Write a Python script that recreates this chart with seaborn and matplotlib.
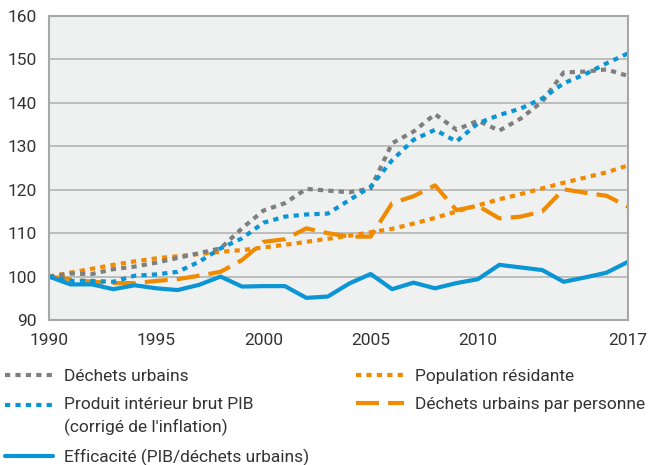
import matplotlib
matplotlib.use("Agg")
import matplotlib.pyplot as plt
import seaborn as sns
import pandas as pd
import numpy as np

years = list(range(1990, 2018))

dechets = [100, 100.7, 100.6, 101.7, 102.3, 103.2, 104.3, 105.4, 106.5, 111.1,
           115.2, 116.9, 120.2, 119.8, 119.4, 120.3, 130.7, 133.4, 137.4, 133.8,
           135.9, 133.6, 136.4, 140.3, 147.0, 147.2, 147.7, 146.2]
pib = [100, 99.0, 99.0, 98.8, 100.2, 100.5, 101.1, 103.4, 106.5, 108.8,
       112.4, 113.8, 114.3, 114.5, 117.6, 120.7, 126.8, 131.5, 133.8, 131.1,
       135.3, 137.2, 138.7, 141.0, 144.5, 146.6, 149.1, 151.4]
efficacite = [100, 98.2, 98.2, 97.1, 98.0, 97.3, 96.9, 98.1, 100.0, 97.7,
              97.8, 97.8, 95.1, 95.4, 98.4, 100.6, 97.1, 98.6, 97.3, 98.5,
              99.4, 102.7, 102.1, 101.5, 98.8, 99.8, 100.9, 103.4]
population = [100, 100.9, 101.8, 102.7, 103.5, 104.2, 104.7, 105.2, 105.7, 106.1,
              106.7, 107.3, 108.0, 108.7, 109.4, 110.2, 111.0, 112.2, 113.5, 115.0,
              116.4, 117.8, 119.0, 120.3, 121.6, 122.8, 124.0, 125.6]
par_personne = [100, 99.4, 98.8, 98.5, 98.5, 99.0, 99.4, 100.2, 101.1, 103.8,
                108.0, 108.6, 111.1, 110.0, 109.2, 109.2, 116.9, 118.5, 121.0, 115.3,
                116.3, 113.4, 113.8, 115.0, 120.1, 119.3, 118.6, 116.1]

labels = ["Déchets urbains",
          "Produit intérieur brut PIB\n(corrigé de l'inflation)",
          "Efficacité (PIB/déchets urbains)",
          "Population résidante",
          "Déchets urbains par personne"]
xtick_labels = {1990: "1990", 1995: "1995", 2000: "2000", 2005: "2005", 2010: "2010", 2017: "2017"}
yticks = [90, 100, 110, 120, 130, 140, 150, 160]

GRAY = "#7f7f7f"
BLUE = "#0a95d5"
ORANGE = "#f08a00"

sns.set_theme(style="white")
plt.rcParams["font.family"] = ["Roboto", "DejaVu Sans"]

df = pd.DataFrame({"year": years, "dechets": dechets, "pib": pib, "eff": efficacite,
                   "pop": population, "pp": par_personne})

fig = plt.figure(figsize=(6.49, 4.65), dpi=100)
ax = fig.add_axes([49/649, 1-320/465, (628-49)/649, (320-16)/465])
ax.set_facecolor("#eff0f0")

lw = 3.0
l_pop = sns.lineplot(data=df, x="year", y="pop", ax=ax, color=ORANGE, lw=lw,
                     linestyle=(0, (1.25, 1.25)), label=labels[3]).get_lines()[-1]
l_pp = sns.lineplot(data=df, x="year", y="pp", ax=ax, color=ORANGE, lw=lw,
                    linestyle=(0, (5.5, 2.2)), label=labels[4]).get_lines()[-1]
l_dech = sns.lineplot(data=df, x="year", y="dechets", ax=ax, color=GRAY, lw=lw,
                      linestyle=(0, (1.25, 1.25)), label=labels[0]).get_lines()[-1]
l_pib = sns.lineplot(data=df, x="year", y="pib", ax=ax, color=BLUE, lw=lw,
                     linestyle=(0, (1.25, 1.25)), label=labels[1]).get_lines()[-1]
l_eff = sns.lineplot(data=df, x="year", y="eff", ax=ax, color=BLUE, lw=lw,
                     label=labels[2]).get_lines()[-1]

ax.set_xlim(1990, 2017)
ax.set_ylim(90, 160)
ax.set_xticks(years)
ax.set_xticklabels([xtick_labels.get(y, "") for y in years])
ax.set_yticks(yticks)
ax.set_xlabel("")
ax.set_ylabel("")
ax.grid(axis="y", color="#b4b4b4", lw=1.2)
ax.set_axisbelow(True)
for s in ax.spines.values():
    s.set_color("#a8a8a8")
    s.set_linewidth(1.5)
ax.tick_params(axis="both", colors="#a8a8a8", labelcolor="#333333", labelsize=12.5)
ax.tick_params(axis="y", length=4, width=1.2, pad=5)
ax.tick_params(axis="x", length=3, width=1.0, pad=6)

leg = ax.legend(handles=[l_dech, l_pib, l_eff, l_pop, l_pp], labels=labels,
                loc="upper left", bbox_to_anchor=(5/649, 1-369/465),
                bbox_transform=fig.transFigure, ncol=2, frameon=False,
                fontsize=12.5, handlelength=2.75, handletextpad=0.62,
                columnspacing=2.75, borderpad=0, borderaxespad=0,
                labelspacing=0.73)
for t in leg.get_texts():
    t.set_color("#333333")
    t.set_linespacing(1.5)

# align the two-line entry's handle with its first text line
h = leg.legend_handles[1]
h.set_ydata(np.asarray(h.get_ydata(), dtype=float) + 8.0)

fig.savefig("out.png", dpi=100)
